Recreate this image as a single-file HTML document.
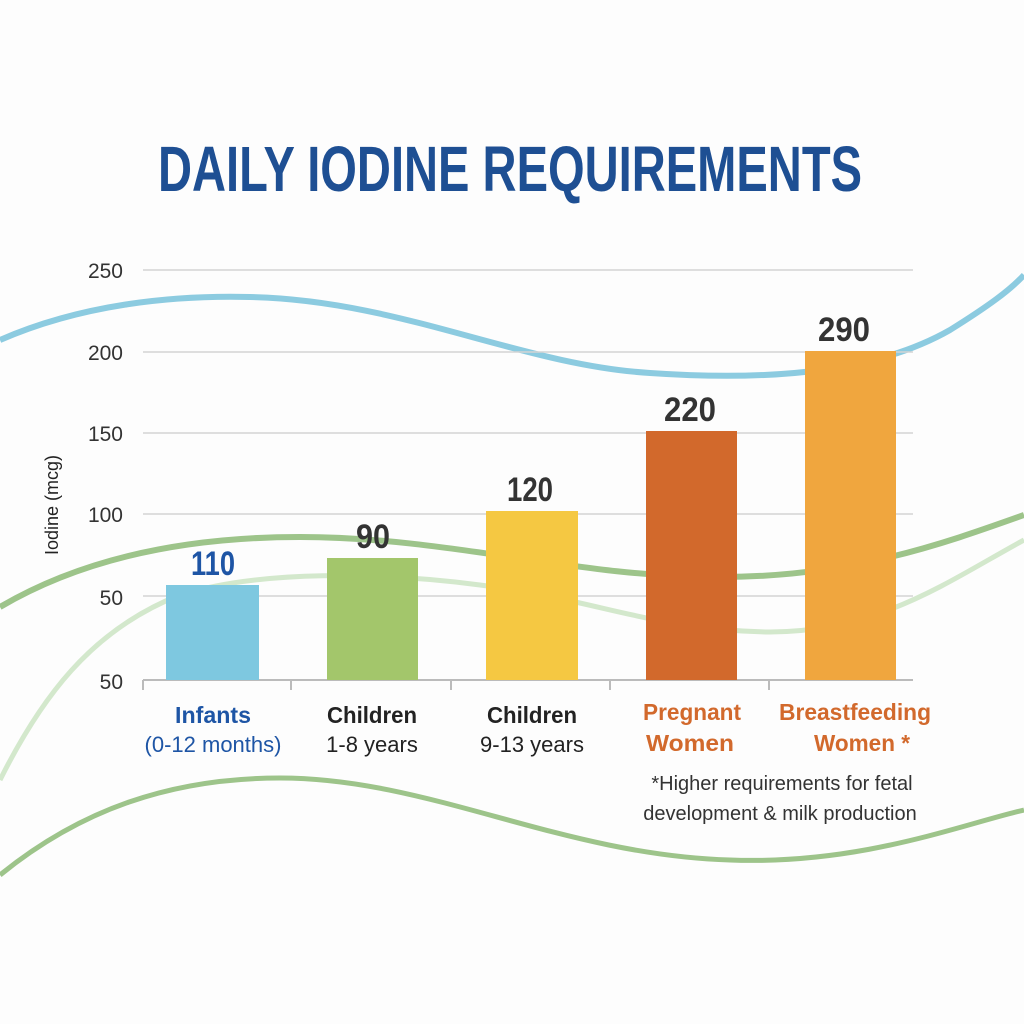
<!DOCTYPE html>
<html><head><meta charset="utf-8"><style>
html,body{margin:0;padding:0;background:#fdfdfd;}
svg{display:block;}
text{font-family:"Liberation Sans",sans-serif;}
</style></head><body>
<svg width="1024" height="1024" viewBox="0 0 1024 1024" xmlns="http://www.w3.org/2000/svg">
<rect width="1024" height="1024" fill="#fdfdfd"/>
<path d="M0,340 C80,305 170,295 250,297 C400,300 520,365 650,373 C780,382 880,370 950,330 C990,305 1010,290 1024,275" fill="none" stroke="#8ccbe0" stroke-width="6"/>
<path d="M0,607 C80,560 180,537 300,537 C450,537 580,578 720,577 C850,577 940,545 1024,515" fill="none" stroke="#9dc48a" stroke-width="6"/>
<path d="M0,780 C40,700 90,630 180,595 C260,570 380,572 480,585 C600,600 650,630 770,632 C880,632 950,580 1024,540" fill="none" stroke="#d3e8cc" stroke-width="5"/>
<path d="M0,875 C80,810 170,778 280,778 C430,778 560,855 730,860 C860,865 960,825 1024,810" fill="none" stroke="#9dc48a" stroke-width="5"/>
<text x="510" y="191" text-anchor="middle" font-size="64" font-weight="bold" fill="#1e4f93" textLength="704" lengthAdjust="spacingAndGlyphs">DAILY IODINE REQUIREMENTS</text>
<g stroke="#d4d4d4" stroke-width="1.5">
<line x1="143" y1="270" x2="913" y2="270"/>
<line x1="143" y1="352" x2="913" y2="352"/>
<line x1="143" y1="433" x2="913" y2="433"/>
<line x1="143" y1="514" x2="913" y2="514"/>
<line x1="143" y1="596" x2="913" y2="596"/>
</g>
<line x1="143" y1="680" x2="913" y2="680" stroke="#bbb" stroke-width="2"/>
<g stroke="#bbb" stroke-width="2">
<line x1="143" y1="680" x2="143" y2="690"/><line x1="291" y1="680" x2="291" y2="690"/>
<line x1="451" y1="680" x2="451" y2="690"/><line x1="610" y1="680" x2="610" y2="690"/>
<line x1="769" y1="680" x2="769" y2="690"/>
</g>
<g font-size="21" fill="#333" text-anchor="end">
<text x="123" y="278">250</text><text x="123" y="360">200</text><text x="123" y="441">150</text>
<text x="123" y="522">100</text><text x="123" y="605">50</text><text x="123" y="689">50</text>
</g>
<text transform="translate(58,505) rotate(-90)" text-anchor="middle" font-size="18" fill="#222">Iodine (mcg)</text>
<rect x="166" y="585" width="93" height="95" fill="#7ec8e0"/>
<rect x="327" y="558" width="91" height="122" fill="#a3c66b"/>
<rect x="486" y="511" width="92" height="169" fill="#f5c842"/>
<rect x="646" y="431" width="91" height="249" fill="#d2692c"/>
<rect x="805" y="351" width="91" height="329" fill="#f0a63e"/>
<g font-size="34" font-weight="bold" text-anchor="middle" fill="#333">
<text x="213" y="575" fill="#1e55a5" textLength="44" lengthAdjust="spacingAndGlyphs">110</text>
<text x="373" y="548" textLength="34" lengthAdjust="spacingAndGlyphs">90</text>
<text x="530" y="501" textLength="46" lengthAdjust="spacingAndGlyphs">120</text>
<text x="690" y="421" textLength="52" lengthAdjust="spacingAndGlyphs">220</text>
<text x="844" y="341" textLength="52" lengthAdjust="spacingAndGlyphs">290</text>
</g>
<g font-size="23" text-anchor="middle">
<text x="213" y="723" font-weight="bold" fill="#1e55a5" textLength="76" lengthAdjust="spacingAndGlyphs">Infants</text>
<text x="213" y="752" fill="#1e55a5" font-size="22">(0-12 months)</text>
<text x="372" y="723" font-weight="bold" fill="#222" textLength="90" lengthAdjust="spacingAndGlyphs">Children</text>
<text x="372" y="752" fill="#222" font-size="22">1-8 years</text>
<text x="532" y="723" font-weight="bold" fill="#222" textLength="90" lengthAdjust="spacingAndGlyphs">Children</text>
<text x="532" y="752" fill="#222" font-size="22">9-13 years</text>
<text x="692" y="720" font-weight="bold" fill="#d2692c" textLength="98" lengthAdjust="spacingAndGlyphs">Pregnant</text>
<text x="690" y="751" font-weight="bold" fill="#d2692c" textLength="88" lengthAdjust="spacingAndGlyphs">Women</text>
<text x="855" y="720" font-weight="bold" fill="#d2692c" textLength="152" lengthAdjust="spacingAndGlyphs">Breastfeeding</text>
<text x="862" y="751" font-weight="bold" fill="#d2692c" textLength="96" lengthAdjust="spacingAndGlyphs">Women *</text>
</g>
<g font-size="20" fill="#333" text-anchor="middle">
<text x="782" y="790">*Higher requirements for fetal</text>
<text x="780" y="820">development &amp; milk production</text>
</g>
</svg>
</body></html>
